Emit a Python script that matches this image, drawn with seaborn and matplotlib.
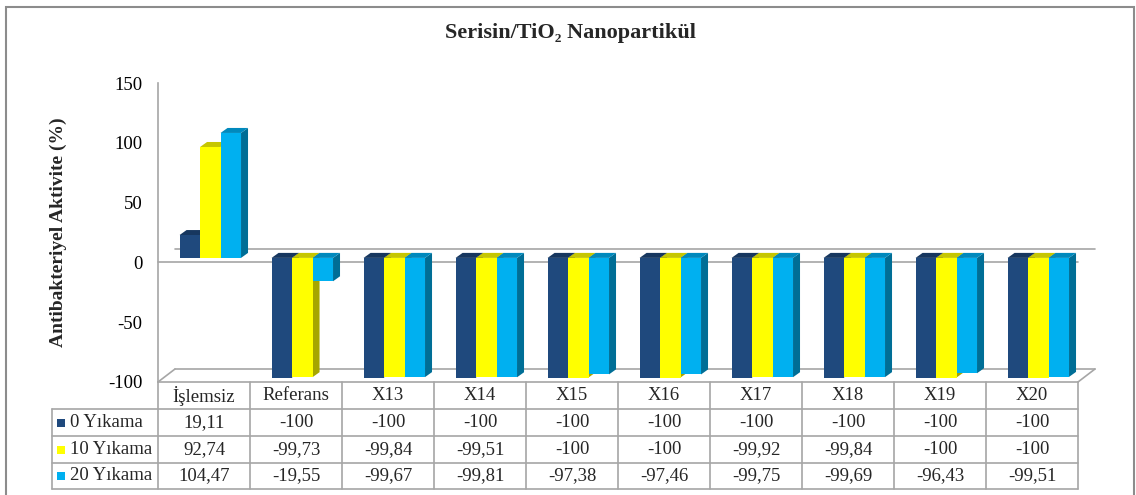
import numpy as np
import pandas as pd
import matplotlib
matplotlib.use("Agg")
import matplotlib.pyplot as plt
import matplotlib.transforms as mtransforms
from matplotlib.patches import Polygon, Rectangle
from matplotlib.lines import Line2D
import seaborn as sns

# veriler
numuneler = ['İşlemsiz', 'Referans', 'X13', 'X14', 'X15', 'X16', 'X17', 'X18', 'X19', 'X20']
seriler = ['0 Yıkama', '10 Yıkama', '20 Yıkama']
yikama_0 = [19.11, -100, -100, -100, -100, -100, -100, -100, -100, -100]
yikama_10 = [92.74, -99.73, -99.84, -99.51, -100, -100, -99.92, -99.84, -100, -100]
yikama_20 = [104.47, -19.55, -99.67, -99.81, -97.38, -97.46, -99.75, -99.69, -96.43, -99.51]

renkler = ['#1F497D', '#FFFF00', '#00B0F0']
ust_renkler = ['#17375F', '#C6C600', '#0089BD']
yan_renkler = ['#143158', '#A6A600', '#006E96']
cizgi = '#A6A6A6'

W, H = 1136, 495


def fx(px):
    return px / W


def fy(py):
    return 1 - py / H


def etiket(v):
    # tabloda virgullu yazim
    if float(v).is_integer():
        return str(int(v))
    return ('%.2f' % v).replace('.', ',')


sns.set_theme(style='white')
plt.rcParams['font.family'] = ['Liberation Serif', 'DejaVu Serif']
plt.rcParams['axes.unicode_minus'] = False

fig = plt.figure(figsize=(W / 100, H / 100), dpi=100)
ax = fig.add_axes([fx(158), fy(382), fx(1078) - fx(158), fy(83) - fy(382)])

df = pd.DataFrame({
    'Numune': numuneler * 3,
    'Yıkama': np.repeat(seriler, len(numuneler)),
    'Aktivite': yikama_0 + yikama_10 + yikama_20,
})

sns.barplot(data=df, x='Numune', y='Aktivite', hue='Yıkama', order=numuneler,
            hue_order=seriler, palette=renkler, width=0.668, saturation=1,
            errorbar=None, linewidth=0, legend=False, ax=ax)

ax.set_xlim(-0.5, 9.5)
ax.set_ylim(-100, 150)
ax.set_autoscale_on(False)
ax.set_yticks(range(-100, 151, 50))
ax.set_xticks([])
ax.set_xlabel('')
ax.set_ylabel('')
ax.tick_params(axis='y', length=0, pad=11, labelsize=13.5, labelcolor='black')
for s in ['top', 'right', 'bottom']:
    ax.spines[s].set_visible(False)
ax.spines['left'].set_color(cizgi)
ax.spines['left'].set_linewidth(1.2)
ax.patch.set_alpha(0)

kimlik = mtransforms.IdentityTransform()
T = ax.transData.transform

# arka duvar ve zemin
derin_x, derin_y = 17, 13
sol0, sag0 = T((-0.5, 0)), T((9.5, 0))
solz, sagz = T((-0.5, -100)), T((9.5, -100))
for a, b in [(sol0, sag0), (solz, sagz)]:
    ax.add_artist(Line2D([a[0] + derin_x, b[0] + derin_x], [a[1] + derin_y, b[1] + derin_y],
                         color=cizgi, lw=1.2, transform=kimlik, clip_on=False, zorder=0.5))
for a in [solz, sagz]:
    ax.add_artist(Line2D([a[0], a[0] + derin_x], [a[1], a[1] + derin_y],
                         color=cizgi, lw=1.2, transform=kimlik, clip_on=False, zorder=0.5))
ax.add_artist(Line2D([sol0[0], sag0[0]], [sol0[1], sag0[1]], color=cizgi, lw=1.2,
                     transform=kimlik, clip_on=False, zorder=0.6))

# 3B cubuk etkisi
kayma = mtransforms.ScaledTranslation(6.3 / 100, 4.5 / 100, fig.dpi_scale_trans)
dx, dy = 7, 5
for k, kap in enumerate(ax.containers):
    for p in kap:
        p.set_transform(ax.transData + kayma)
        p.set_zorder(3)
        x, w, h = p.get_x(), p.get_width(), p.get_height()
        tt = (ax.transData + kayma).transform
        xl, yb = tt((x, min(0, h)))
        xr, yt = tt((x + w, max(0, h)))
        ust = Polygon([(xl, yt), (xr, yt), (xr + dx, yt + dy), (xl + dx, yt + dy)],
                      closed=True, facecolor=ust_renkler[k], edgecolor='none',
                      transform=kimlik, clip_on=False, zorder=2)
        yan = Polygon([(xr, yb), (xr + dx, yb + dy), (xr + dx, yt + dy), (xr, yt)],
                      closed=True, facecolor=yan_renkler[k], edgecolor='none',
                      transform=kimlik, clip_on=False, zorder=2)
        ax.add_artist(yan)
        ax.add_artist(ust)

# baslik ve eksen etiketi
fig.text(fx(570), fy(33), 'Serisin/TiO₂ Nanopartikül', ha='center', va='center',
         fontsize=16, fontweight='bold')
fig.text(fx(58), fy(232), 'Antibakteriyel Aktivite (%)', ha='center', va='center',
         rotation=90, fontsize=14, fontweight='bold')

# veri tablosu
satirlar = [382, 409, 436, 463, 489]
sinirlar = [T((i - 0.5, 0))[0] for i in range(len(numuneler) + 1)]
sol_kenar = 52
bt = mtransforms.blended_transform_factory(kimlik, fig.transFigure)
for j, yy in enumerate(satirlar):
    x0 = sinirlar[0] if j == 0 else sol_kenar
    fig.add_artist(Line2D([x0, sinirlar[-1]], [fy(yy), fy(yy)], color=cizgi, lw=1.2, transform=bt))
for xs in sinirlar:
    fig.add_artist(Line2D([xs, xs], [fy(satirlar[0]), fy(satirlar[-1])], color=cizgi, lw=1.2, transform=bt))
fig.add_artist(Line2D([sol_kenar, sol_kenar], [fy(satirlar[1]), fy(satirlar[-1])], color=cizgi, lw=1.2, transform=bt))

merkez = [(satirlar[j] + satirlar[j + 1]) / 2 for j in range(4)]
for i, ad in enumerate(numuneler):
    xc = (sinirlar[i] + sinirlar[i + 1]) / 2
    fig.text(xc, fy(merkez[0]), ad, ha='center', va='center', fontsize=13.5, transform=bt)
    for j, seri in enumerate([yikama_0, yikama_10, yikama_20]):
        fig.text(xc, fy(merkez[j + 1]), etiket(seri[i]), ha='center', va='center',
                 fontsize=13.5, transform=bt)

for j, ad in enumerate(seriler):
    fig.add_artist(Rectangle((57, fy(merkez[j + 1] + 4)), 8, 8 / H, transform=bt,
                             facecolor=renkler[j], edgecolor='none'))
    fig.text(70, fy(merkez[j + 1]), ad, ha='left', va='center', fontsize=13.5, transform=bt)

# dis cerceve
fig.add_artist(Rectangle((fx(6), fy(520)), fx(1134) - fx(6), fy(7) - fy(520),
                         transform=fig.transFigure, fill=False, edgecolor='#8C8C8C', lw=1.5))

fig.savefig('out.png', dpi=100)
